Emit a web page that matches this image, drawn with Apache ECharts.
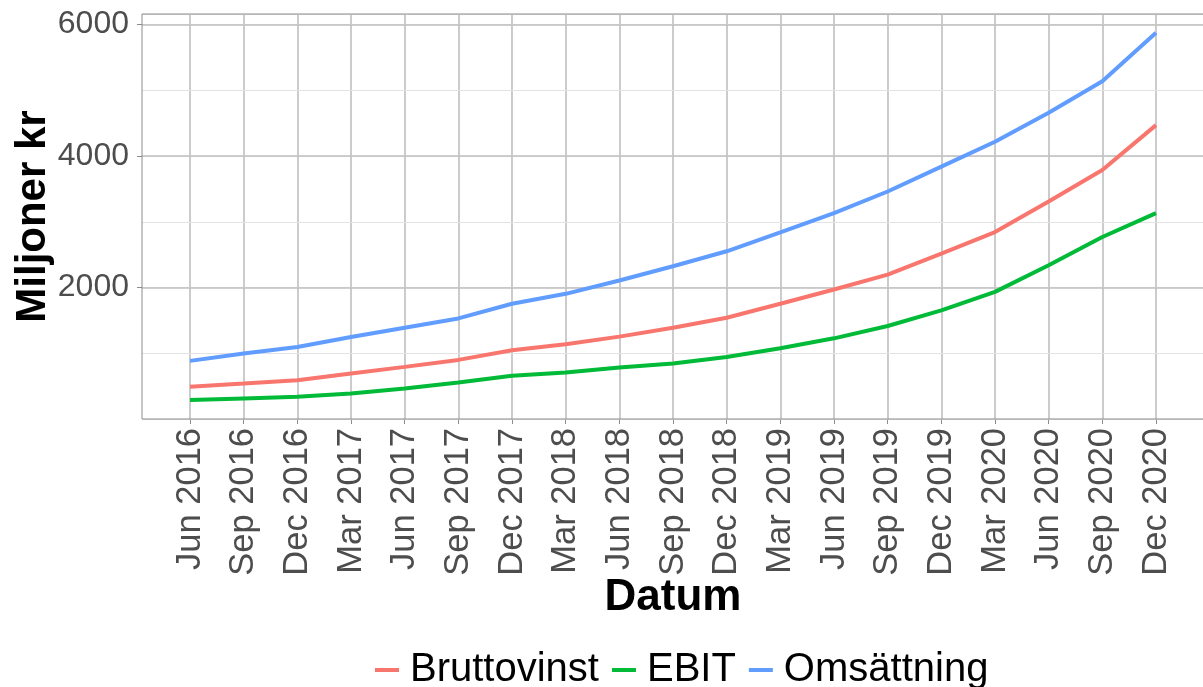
<!DOCTYPE html>
<html>
<head>
<meta charset="utf-8">
<script src="https://cdn.jsdelivr.net/npm/echarts@6/dist/echarts.min.js"></script>
<style>
html,body{margin:0;padding:0;background:#fff;}
#c{width:1203px;height:687px;}
</style>
</head>
<body>
<div id="c"></div>
<script>
const categories = ['Jun 2016','Sep 2016','Dec 2016','Mar 2017','Jun 2017','Sep 2017','Dec 2017','Mar 2018','Jun 2018','Sep 2018','Dec 2018','Mar 2019','Jun 2019','Sep 2019','Dec 2019','Mar 2020','Jun 2020','Sep 2020','Dec 2020'];
const bruttovinst = [490, 540, 591, 692, 793, 899, 1045, 1136, 1253, 1389, 1540, 1753, 1970, 2197, 2515, 2843, 3308, 3788, 4470];
const ebit = [288, 313, 338, 389, 465, 556, 657, 707, 783, 843, 944, 1076, 1227, 1414, 1652, 1934, 2338, 2768, 3131];
const omsattning = [884, 995, 1096, 1247, 1389, 1530, 1753, 1904, 2106, 2323, 2551, 2838, 3131, 3460, 3838, 4217, 4657, 5136, 5874];
const yTicks = [2000, 4000, 6000];
const seriesNames = ['Bruttovinst', 'EBIT', 'Omsättning'];
const colors = ['#F8766D', '#00BA38', '#619CFF'];

const FONT = "'Liberation Sans', Arial, Helvetica, sans-serif";
const chart = echarts.init(document.getElementById('c'), null, {renderer: 'canvas'});
const YMIN = 0, YMAX = 6160;

chart.setOption({
  animation: false,
  color: colors,
  textStyle: {fontFamily: FONT},
  grid: [
    {left: 142, right: -2, top: 14, bottom: 268, show: true, borderColor: '#8c8c8c', borderWidth: 1, backgroundColor: 'transparent', z: 3, outerBoundsMode: 'none', containLabel: false},
    {left: 190, right: 47, top: 14, bottom: 268, show: false, outerBoundsMode: 'none', containLabel: false}
  ],
  xAxis: [
    {gridIndex: 0, type: 'value', min: 0, max: 1, show: false},
    {gridIndex: 1, type: 'category', data: categories, boundaryGap: false,
     axisLine: {show: false},
     axisTick: {show: true, length: 5, lineStyle: {color: '#8c8c8c', width: 1}},
     axisLabel: {rotate: 90, fontSize: 34.5, color: '#4d4d4d', margin: 9, fontFamily: FONT},
     splitLine: {show: true, lineStyle: {color: '#bfbfbf', width: 1.6}},
     name: 'Datum', nameLocation: 'middle', nameGap: 157, nameMoveOverlap: false,
     nameTextStyle: {fontSize: 44, fontWeight: 'bold', color: '#000', fontFamily: FONT}}
  ],
  yAxis: [
    {gridIndex: 0, type: 'value', min: YMIN, max: YMAX, interval: 2000,
     axisLine: {show: false},
     axisTick: {show: true, length: 5, customValues: yTicks, lineStyle: {color: '#8c8c8c'}},
     axisLabel: {fontSize: 32, color: '#4d4d4d', margin: 13, fontFamily: FONT, customValues: yTicks,
       formatter: v => (v > 0 && v % 2000 === 0) ? String(v) : ''},
     splitLine: {show: true, lineStyle: {color: '#bfbfbf', width: 1.6}},
     name: 'Miljoner kr', nameLocation: 'middle', nameGap: 88, nameRotate: 90, nameMoveOverlap: false,
     nameTextStyle: {fontSize: 42, fontWeight: 'bold', color: '#000', fontFamily: FONT}, z: 2},
    {gridIndex: 0, type: 'value', min: YMIN, max: YMAX, interval: 1000,
     axisLine: {show: false}, axisTick: {show: false}, axisLabel: {show: false},
     splitLine: {show: true, lineStyle: {color: '#e3e3e3', width: 1.2}}, z: 1},
    {gridIndex: 1, type: 'value', min: YMIN, max: YMAX, show: false, splitLine: {show: false}}
  ],
  legend: {
    top: 645, left: 370, icon: 'rect', itemWidth: 24, itemHeight: 4, itemGap: 13,
    textStyle: {fontSize: 40, color: '#000', fontFamily: FONT, padding: [0, 0, 0, 6]},
    data: seriesNames
  },
  series: [
    {name: seriesNames[0], type: 'line', xAxisIndex: 1, yAxisIndex: 2, data: bruttovinst, symbol: 'none', lineStyle: {width: 4, color: colors[0]}, z: 5},
    {name: seriesNames[1], type: 'line', xAxisIndex: 1, yAxisIndex: 2, data: ebit, symbol: 'none', lineStyle: {width: 4, color: colors[1]}, z: 5},
    {name: seriesNames[2], type: 'line', xAxisIndex: 1, yAxisIndex: 2, data: omsattning, symbol: 'none', lineStyle: {width: 4, color: colors[2]}, z: 5}
  ]
});
</script>
</body>
</html>
